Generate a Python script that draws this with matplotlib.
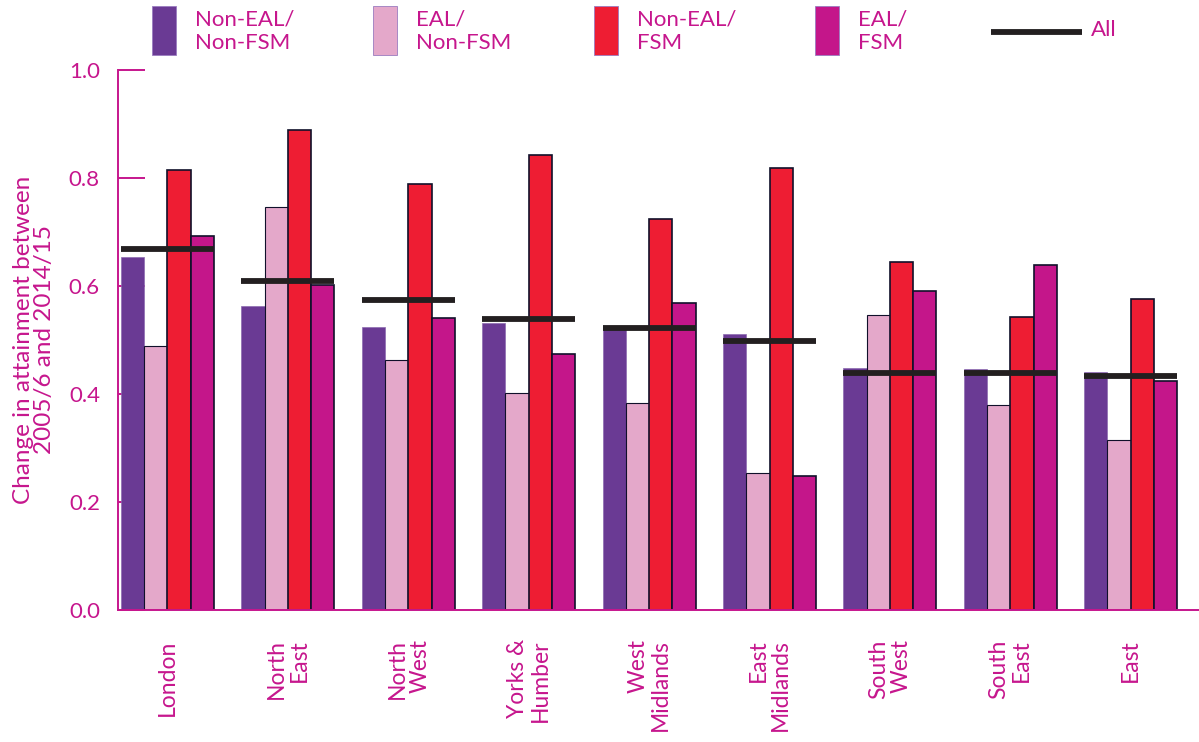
import matplotlib.pyplot as plt
import numpy as np
from matplotlib.patches import Rectangle
from matplotlib.lines import Line2D

plt.rcParams['font.family'] = ['Lato', 'DejaVu Sans']

regions = ['London', 'North\nEast', 'North\nWest', 'Yorks &\nHumber', 'West\nMidlands',
           'East\nMidlands', 'South\nWest', 'South\nEast', 'East']
non_eal_non_fsm = [0.654, 0.563, 0.525, 0.531, 0.525, 0.512, 0.448, 0.447, 0.440]
eal_non_fsm = [0.488, 0.747, 0.463, 0.401, 0.384, 0.253, 0.547, 0.379, 0.315]
non_eal_fsm = [0.815, 0.888, 0.788, 0.843, 0.725, 0.818, 0.644, 0.543, 0.576]
eal_fsm = [0.693, 0.602, 0.540, 0.475, 0.569, 0.248, 0.591, 0.639, 0.425]
all_pupils = [0.668, 0.609, 0.575, 0.539, 0.523, 0.499, 0.438, 0.438, 0.433]
yticks = [0.0, 0.2, 0.4, 0.6, 0.8, 1.0]

pink_txt = '#C6168D'
purple = '#6A3A94'
pink = '#E4A8CA'
red = '#EE1D33'
magenta = '#C4168A'
dark = '#231F20'
edge = '#10102A'

W, H = 1199, 742
fig = plt.figure(figsize=(W / 100, H / 100), dpi=100)
ax = fig.add_axes([118 / W, 132 / H, (W - 118) / W, 540 / H])

x = np.arange(len(regions))
w = 0.193
ax.bar(x - 1.5 * w, non_eal_non_fsm, w, color=purple, edgecolor='#8C6BB0', linewidth=0.5)
ax.bar(x - 0.5 * w, eal_non_fsm, w, color=pink, edgecolor=edge, linewidth=0.8)
ax.bar(x + 0.5 * w, non_eal_fsm, w, color=red, edgecolor=edge, linewidth=1.2)
ax.bar(x + 1.5 * w, eal_fsm, w, color=magenta, edgecolor=edge, linewidth=1.2)
ax.hlines(all_pupils, x - 2 * w, x + 2 * w, color=dark, linewidth=4.2, zorder=3)

ax.set_xlim(-0.411, 8.567)
ax.set_ylim(0, 1.0)
ax.set_axisbelow(True)
ax.set_yticks(yticks)
ax.set_yticklabels(['%.1f' % t for t in yticks])
ax.set_xticks(x)
ax.set_xticklabels(regions, rotation=90, va='top', ha='center', multialignment='right',
                   linespacing=1.1)
ax.tick_params(axis='y', direction='in', length=19.5, width=1.4, color=pink_txt,
               labelcolor=pink_txt, labelsize=16, pad=13)
ax.tick_params(axis='x', length=0, labelcolor=pink_txt, labelsize=16.5, pad=21)
for s in ['top', 'right']:
    ax.spines[s].set_visible(False)
for s in ['left', 'bottom']:
    ax.spines[s].set_color(pink_txt)
    ax.spines[s].set_linewidth(1.4)

ax.text(-0.0775, 0.5, 'Change in attainment between\n2005/6 and 2014/15', transform=ax.transAxes,
        rotation=90, ha='center', va='center', multialignment='center', fontsize=17.5,
        color=pink_txt, linespacing=1.02)

# legend drawn by hand along the top
def px(xp, yp):
    return xp / W, 1 - yp / H

legend_items = [(152, purple, 'Non-EAL/\nNon-FSM'), (373, pink, 'EAL/\nNon-FSM'),
                (594, red, 'Non-EAL/\nFSM'), (815, magenta, 'EAL/\nFSM')]
for xl, col, lab in legend_items:
    fig.add_artist(Rectangle(px(xl, 55), 24 / W, 49 / H, transform=fig.transFigure,
                             facecolor=col, edgecolor='#9A7CC0', linewidth=0.6))
    fig.text(*px(xl + 43, 31), lab, ha='left', va='center', fontsize=16, color=pink_txt,
             linespacing=1.25)
fig.add_artist(Line2D([991 / W, 1082 / W], [1 - 32 / H, 1 - 32 / H], transform=fig.transFigure,
                      color=dark, linewidth=4.2, solid_capstyle='butt'))
fig.text(*px(1091, 30), 'All', ha='left', va='center', fontsize=16, color=pink_txt)

fig.savefig('out.png', dpi=100)
